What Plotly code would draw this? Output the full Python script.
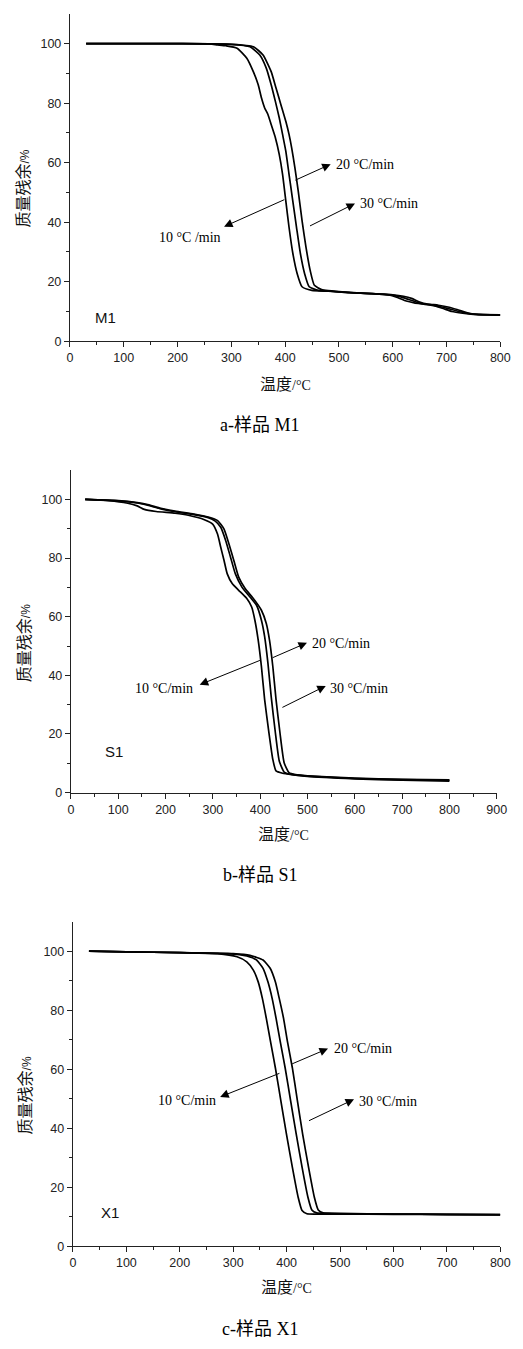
import plotly.graph_objects as go

# ---------------- data ----------------
rates = ["10 °C/min", "20 °C/min", "30 °C/min"]

m1_10_x = [30, 100, 200, 260, 274, 290, 310.5, 328.7, 340.8, 349.9, 355.9, 361.9, 368, 374, 381.8, 389, 395.2, 401.2, 407.2, 414.4, 422.4, 431.4, 449.6, 480, 520, 560, 595, 610, 625, 640, 660, 680, 695, 710, 730, 750, 800]
m1_10_y = [100, 100, 100, 99.9, 99.6, 99.3, 98.5, 95.1, 90.6, 86.2, 81.8, 78.4, 76.2, 72.8, 68.4, 62.8, 56.1, 47.2, 38.3, 29.4, 22.7, 18.3, 17.1, 16.8, 16.3, 16.0, 15.5, 14.6, 13.5, 12.9, 12.4, 11.8, 10.9, 10.0, 9.4, 9.0, 8.8]
m1_20_x = [30, 100, 200, 300, 334.6, 352.8, 364.9, 374, 381.8, 389, 395.2, 401.2, 407.2, 413.3, 421.1, 428.4, 436.2, 444.7, 461.6, 480, 520, 560, 600, 615, 630, 645, 660, 680, 700, 715, 735, 755, 800]
m1_20_y = [100, 100, 100, 99.8, 99.0, 96.2, 91.8, 86.2, 80.6, 75.1, 69.5, 63.9, 56.1, 48.3, 38.3, 29.4, 22.7, 18.3, 17.1, 16.9, 16.3, 16.0, 15.5, 14.9, 14.0, 13.1, 12.5, 12.0, 11.1, 10.4, 9.5, 9.0, 8.8]
m1_30_x = [30, 100, 200, 300, 340.8, 358.9, 374, 383, 392.1, 401.2, 407.2, 412.1, 418, 424.2, 431.4, 438.7, 446.5, 454.3, 467.7, 480, 520, 560, 600, 620, 635, 650, 665, 685, 705, 722, 742, 760, 800]
m1_30_y = [100, 100, 100, 99.8, 99.0, 96.2, 90.6, 85.1, 79.5, 73.9, 69.5, 65.0, 58.4, 50.6, 40.5, 31.6, 23.8, 18.8, 17.4, 17.0, 16.4, 16.0, 15.6, 15.1, 14.4, 13.2, 12.5, 12.1, 11.4, 10.5, 9.4, 9.0, 8.9]

s1_10_x = [30, 80, 120, 140, 155, 180, 220, 248, 282, 299.5, 309.8, 316.6, 323.6, 330.4, 340.8, 354.6, 371.7, 382, 388.8, 395.8, 402.6, 409.4, 418.5, 426.7, 433.5, 447.3, 468, 500, 600, 700, 800]
s1_10_y = [100, 99.6, 98.7, 97.8, 96.6, 95.9, 95.3, 94.6, 93.1, 91.6, 88.2, 83.7, 79.2, 74.6, 71.3, 69.0, 66.2, 63.3, 58.8, 52.0, 43.0, 31.7, 20.4, 11.3, 7.4, 6.6, 6.1, 5.5, 4.7, 4.2, 3.9]
s1_20_x = [30, 100, 140, 160, 190, 220, 260, 290, 305, 316.6, 327, 337.3, 347.6, 361.4, 378.5, 392.3, 402.6, 409.4, 416.4, 423.2, 432.1, 440.3, 450.6, 468, 500, 600, 700, 800]
s1_20_y = [100, 99.5, 98.8, 98.1, 96.8, 95.8, 94.8, 93.8, 92.6, 90.5, 86.0, 80.3, 74.6, 70.1, 66.7, 63.9, 58.8, 53.2, 44.1, 32.8, 20.4, 10.8, 7.0, 6.1, 5.6, 4.8, 4.4, 4.2]
s1_30_x = [30, 100, 140, 160, 190, 220, 260, 290, 310, 323.6, 334, 344.3, 354.6, 368.2, 385.5, 402.6, 412.9, 419.7, 426.7, 433.5, 441.8, 450.6, 460.9, 474.7, 500, 600, 700, 800]
s1_30_y = [100, 99.6, 98.9, 98.3, 97.0, 96.0, 95.0, 94.0, 92.8, 89.9, 84.8, 79.2, 73.5, 69.6, 66.2, 62.2, 57.7, 52.0, 43.0, 31.7, 20.4, 10.2, 6.8, 6.1, 5.7, 4.9, 4.5, 4.3]

x1_10_x = [30, 100, 200, 270.7, 307.2, 325.4, 337.7, 346.8, 354.6, 361.9, 369.8, 378.9, 389.3, 399.7, 410.7, 421.6, 428.9, 438, 459, 500, 600, 700, 800]
x1_10_y = [100, 99.8, 99.5, 99.2, 98.1, 96.4, 93.6, 89.6, 84.0, 77.3, 69.4, 60.5, 49.2, 38.0, 26.8, 16.6, 12.1, 11.0, 10.9, 10.9, 10.8, 10.7, 10.6]
x1_20_x = [30, 100, 200, 290, 325.4, 343.7, 355.9, 365, 372.9, 380.2, 388, 397.2, 407.6, 418, 428.9, 439.9, 447.2, 456.3, 480, 500, 600, 700, 800]
x1_20_y = [100, 99.8, 99.5, 99.2, 98.4, 97.0, 94.2, 89.6, 84.0, 77.3, 69.4, 60.5, 49.2, 38.0, 26.8, 16.6, 12.3, 11.3, 11.1, 11.0, 10.9, 10.8, 10.7]
x1_30_x = [30, 100, 200, 300, 331.5, 355.9, 369.2, 378.9, 386.2, 394.2, 401.5, 410.7, 420.3, 430, 441, 451.9, 459.2, 468.3, 500, 600, 700, 800]
x1_30_y = [100, 99.8, 99.5, 99.2, 98.6, 97.0, 94.2, 89.6, 84.0, 77.3, 69.4, 60.5, 49.2, 38.0, 26.8, 16.6, 12.3, 11.3, 11.1, 10.9, 10.8, 10.7]

panels = [
    dict(name="M1", caption="a-样品 M1", xmax=800,
         series=[(m1_10_x, m1_10_y), (m1_20_x, m1_20_y), (m1_30_x, m1_30_y)]),
    dict(name="S1", caption="b-样品 S1", xmax=900,
         series=[(s1_10_x, s1_10_y), (s1_20_x, s1_20_y), (s1_30_x, s1_30_y)]),
    dict(name="X1", caption="c-样品 X1", xmax=800,
         series=[(x1_10_x, x1_10_y), (x1_20_x, x1_20_y), (x1_30_x, x1_30_y)]),
]

# ---------------- layout geometry (pixels) ----------------
W, H = 523, 1349
plot_px = [  # left, right, top, bottom
    (68.7, 510.0, 14.0, 343.0),
    (69.7, 506.3, 472.6, 796.7),
    (71.7, 510.0, 926.5, 1252.7),
]
caption_y = [427, 880, 1336]
xtitle_y = [385, 837, 1293]
ytitle_pos = [(20, 190), (20, 647), (21.7, 1101)]

# annotation positions in data coords: (label, head, tail, text pos, text anchor)
arrows = [
    [("10 °C /min", (286.4, 38.5), (401.2, 47.8), (284.6, 35.0), "right"),
     ("20 °C/min", (484.6, 59.5), (416.2, 53.9), (490.5, 59.5), "left"),
     ("30 °C/min", (529.9, 46.3), (443.4, 38.5), (535.3, 46.3), "left")],
    [("10 °C/min", (272.1, 36.8), (402.6, 45.3), (263.0, 35.4), "right"),
     ("20 °C/min", (498.9, 51.1), (423.2, 45.8), (504.3, 50.7), "left"),
     ("30 °C/min", (538.6, 36.4), (443.8, 28.8), (543.5, 35.6), "left")],
    [("10 °C/min", (275.6, 50.6), (389.3, 58.8), (272.0, 49.5), "right"),
     ("20 °C/min", (477.5, 67.0), (407.6, 61.6), (484.8, 66.9), "left"),
     ("30 °C/min", (526.2, 49.8), (439.1, 42.3), (531.1, 49.0), "left")],
]
sample_label_pos = [(43.5, 8.0), (68.0, 14.1), (48.6, 11.4)]

SANS = "Liberation Sans, Arial, sans-serif"
SERIF = "Liberation Serif, Times New Roman, serif"
CJK = "Noto Sans CJK SC, sans-serif"
AX = "#222222"

fig = go.Figure()
layout = dict(
    width=W, height=H, margin=dict(l=0, r=0, t=0, b=0),
    paper_bgcolor="white", plot_bgcolor="white", showlegend=False,
)
annotations = []

for i, p in enumerate(panels):
    k = "" if i == 0 else str(i + 1)
    xref, yref = "x" + k, "y" + k
    l, r, t, b = plot_px[i]
    for sx, sy in p["series"]:
        fig.add_trace(go.Scatter(x=sx, y=sy, mode="lines", xaxis=xref, yaxis=yref,
                                 line=dict(color="black", width=1.7, shape="spline", smoothing=0.5),
                                 hoverinfo="skip"))
    layout["xaxis" + k] = dict(
        domain=[l / W, r / W], anchor=yref, range=[0, p["xmax"]],
        tickmode="array", tickvals=list(range(0, p["xmax"] + 1, 100)),
        showline=True, linecolor=AX, linewidth=1.3, showgrid=False, zeroline=False,
        ticks="outside", ticklen=5, tickwidth=1.2, tickcolor=AX,
        minor=dict(ticks="outside", ticklen=3, tickwidth=1.2, tickcolor=AX,
                   tickvals=list(range(50, p["xmax"], 100)), showgrid=False),
        tickfont=dict(family=SANS, size=12.5, color=AX),
    )
    layout["yaxis" + k] = dict(
        domain=[1 - b / H, 1 - t / H], anchor=xref, range=[0, 110],
        tickmode="array", tickvals=[0, 20, 40, 60, 80, 100],
        showline=True, linecolor=AX, linewidth=1.3, showgrid=False, zeroline=False,
        ticks="outside", ticklen=5, tickwidth=1.2, tickcolor=AX,
        minor=dict(ticks="outside", ticklen=3, tickwidth=1.2, tickcolor=AX,
                   tickvals=[10, 30, 50, 70, 90], showgrid=False),
        tickfont=dict(family=SANS, size=12.5, color=AX),
    )
    # arrows and labels
    for label, head, tail, tpos, anchor in arrows[i]:
        annotations.append(dict(
            x=head[0], y=head[1], ax=tail[0], ay=tail[1], xref=xref, yref=yref,
            axref=xref, ayref=yref, text="", showarrow=True, arrowhead=2,
            arrowsize=1.7, arrowwidth=1, arrowcolor="black", standoff=0, startstandoff=0))
        annotations.append(dict(
            x=tpos[0], y=tpos[1], xref=xref, yref=yref, text=label, showarrow=False,
            xanchor=anchor, yanchor="middle",
            font=dict(family=SERIF, size=14, color="black")))
    sl = sample_label_pos[i]
    annotations.append(dict(x=sl[0], y=sl[1], xref=xref, yref=yref, text=p["name"],
                            showarrow=False, xanchor="left", yanchor="middle",
                            font=dict(family=SANS, size=15, color="#111")))
    # axis titles
    annotations.append(dict(
        x=(l + r) / 2 / W, y=1 - xtitle_y[i] / H, xref="paper", yref="paper",
        text="温度<span style='font-family:Liberation Serif;font-size:14px'>/°C</span>",
        showarrow=False, xanchor="center", yanchor="middle",
        font=dict(family=CJK, size=16, color="#111")))
    yx, yy = ytitle_pos[i]
    annotations.append(dict(
        x=yx / W, y=1 - yy / H, xref="paper", yref="paper", textangle=-90,
        text="质量残余<span style='font-family:Liberation Sans;font-size:12px'>/%</span>",
        showarrow=False, xanchor="center", yanchor="middle",
        font=dict(family=CJK, size=16, color="#111")))
    # caption
    annotations.append(dict(
        x=264 / W, y=1 - caption_y[i] / H, xref="paper", yref="paper",
        text=p["caption"], showarrow=False, xanchor="center", yanchor="middle",
        font=dict(family="Liberation Serif, Noto Sans CJK SC, serif", size=18, color="black")))

layout["annotations"] = annotations
fig.update_layout(**layout)
fig.write_html("out.html")
